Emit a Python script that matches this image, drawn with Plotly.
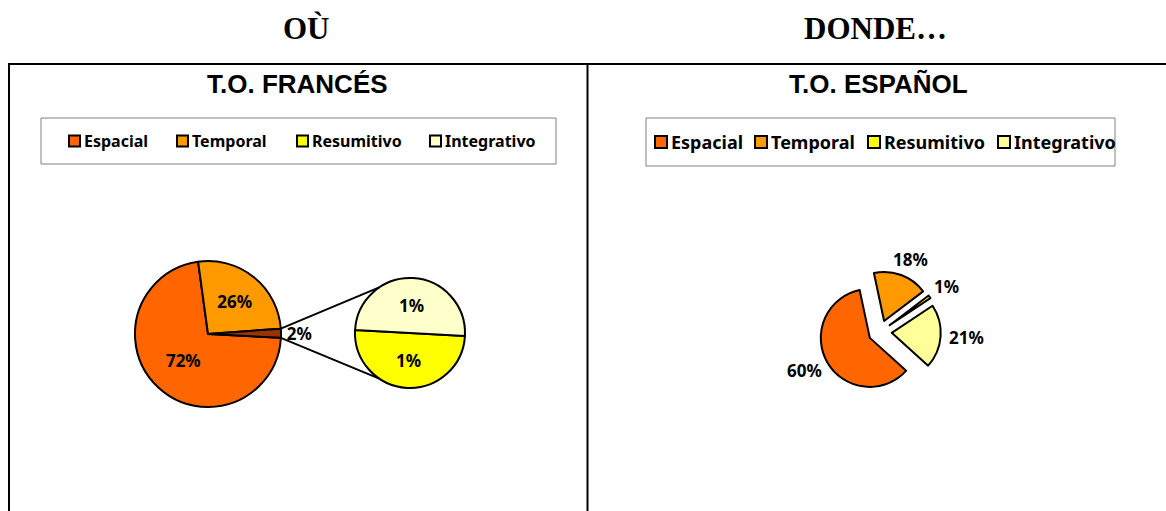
import math
import plotly.graph_objects as go

W, H = 1166, 511

# ---- data -------------------------------------------------------------
headers = ["OÙ", "DONDE…"]
titles = ["T.O. FRANCÉS", "T.O. ESPAÑOL"]
categories = ["Espacial", "Temporal", "Resumitivo", "Integrativo"]

# T.O. FRANCÉS: pie of pie (the two small categories grouped in the main pie)
fr_main_labels = ["Espacial", "Temporal", "Otros"]
fr_main_values = [72, 26, 2]
fr_sub_labels = ["Resumitivo", "Integrativo"]
fr_sub_values = [1, 1]

# T.O. ESPAÑOL: exploded pie
es_labels = ["Espacial", "Temporal", "Resumitivo", "Integrativo"]
es_values = [60, 18, 1, 21]

# ---- styles -----------------------------------------------------------
FR_COLORS = {"Espacial": "#FF6600", "Temporal": "#FF9900", "Otros": "#993300",
             "Resumitivo": "#FFFF00", "Integrativo": "#FFFFCC"}
ES_COLORS = {"Espacial": "#FF6600", "Temporal": "#FF9900",
             "Resumitivo": "#FFFF00", "Integrativo": "#FFFF99"}

LABEL_SIZE = 17
LABEL_FONT = dict(family="Noto Sans", size=LABEL_SIZE, color="black", weight="bold")


def fx(x):
    return x / W


def fy(y):
    return 1 - y / H


def pie_domain(cx, cy, r, pull=0.0):
    half = r * (1 + pull)
    return dict(x=[fx(cx - half), fx(cx + half)], y=[fy(cy + half), fy(cy - half)])


def unit(ang):
    a = math.radians(ang)
    return math.sin(a), -math.cos(a)


def rim_point(cx, cy, r, ang):
    ux, uy = unit(ang)
    return cx + r * ux, cy + r * uy


# pie geometry (pixels)
C1, R1, ROT1 = (208, 334), 73, 93
C2, R2, ROT2 = (410, 333), 55, 93
C3, R3, ROT3, PULL3 = (880, 332), 49, 132, 0.24
LABEL_GAP = 8

fig = go.Figure()

fig.add_trace(go.Pie(
    labels=fr_main_labels, values=fr_main_values, sort=False,
    direction="clockwise", rotation=ROT1,
    marker=dict(colors=[FR_COLORS[l] for l in fr_main_labels],
                line=dict(color="black", width=2)),
    texttemplate="%{value}%", textposition=["inside", "inside", "outside"],
    insidetextorientation="horizontal", textfont=LABEL_FONT,
    domain=pie_domain(*C1, R1), showlegend=False,
))

fig.add_trace(go.Pie(
    labels=fr_sub_labels, values=fr_sub_values, sort=False,
    direction="clockwise", rotation=ROT2,
    marker=dict(colors=[FR_COLORS[l] for l in fr_sub_labels],
                line=dict(color="black", width=2)),
    texttemplate="%{value}%", textposition="inside",
    insidetextorientation="horizontal", textfont=LABEL_FONT,
    domain=pie_domain(*C2, R2), showlegend=False,
))

fig.add_trace(go.Pie(
    labels=es_labels, values=es_values, sort=False,
    direction="clockwise", rotation=ROT3, pull=[PULL3] * len(es_values),
    marker=dict(colors=[ES_COLORS[l] for l in es_labels],
                line=dict(color="black", width=2)),
    textinfo="none",
    domain=pie_domain(*C3, R3, PULL3), showlegend=False,
))

shapes = []
annotations = []

# outside-end labels of the exploded pie, placed along each slice's mid angle
es_total = sum(es_values)
cum = 0
for v in es_values:
    mid = ROT3 + 360 * (cum + v / 2) / es_total
    cum += v
    ux, uy = unit(mid)
    px, py = rim_point(*C3, R3 * (1 + PULL3) + LABEL_GAP, mid)
    text = f"{v}%"
    half_w = (0.6 * (len(text) - 1) + 0.9) * LABEL_SIZE / 2
    half_h = 9
    annotations.append(dict(text=text, x=fx(px + ux * half_w), y=fy(py + uy * half_h),
                            xref="paper", yref="paper", showarrow=False,
                            xanchor="center", yanchor="middle", font=LABEL_FONT))

# connector lines between the grouped slice and the secondary pie
total = sum(fr_main_values)
start_other = ROT1 + 360 * sum(fr_main_values[:-1]) / total
end_other = ROT1 + 360
for a_main, a_sub in [(start_other, 326), (end_other, 214)]:
    x0, y0 = rim_point(*C1, R1, a_main)
    x1, y1 = rim_point(*C2, R2, a_sub)
    shapes.append(dict(type="line", xref="paper", yref="paper",
                       x0=fx(x0), y0=fy(y0), x1=fx(x1), y1=fy(y1),
                       line=dict(color="black", width=2)))

# table frame
for x0, y0, x1, y1 in [(8, 64, 1166, 64), (9, 64, 9, 511), (587.5, 64, 587.5, 511)]:
    shapes.append(dict(type="line", xref="paper", yref="paper",
                       x0=fx(x0), y0=fy(y0), x1=fx(x1), y1=fy(y1),
                       line=dict(color="black", width=2)))

# column headers and chart titles
for text, cx in zip(headers, [306, 875]):
    annotations.append(dict(text=text, x=fx(cx), y=fy(29), xref="paper", yref="paper",
                            showarrow=False, xanchor="center", yanchor="middle",
                            font=dict(family="Liberation Serif", size=31, color="black",
                                      weight="bold")))
for text, cx in zip(titles, [297, 878]):
    annotations.append(dict(text=text, x=fx(cx), y=fy(84), xref="paper", yref="paper",
                            showarrow=False, xanchor="center", yanchor="middle",
                            font=dict(family="Liberation Sans", size=26, color="black",
                                      weight="bold")))

# legends
legend_specs = [
    dict(box=(41, 118, 556, 164), xs=[69, 177, 297, 430], sq=11, font=16, colors=FR_COLORS),
    dict(box=(646, 118, 1115, 166), xs=[655, 755, 868, 998], sq=12, font=18, colors=ES_COLORS),
]
for spec in legend_specs:
    bx0, by0, bx1, by1 = spec["box"]
    shapes.append(dict(type="rect", xref="paper", yref="paper",
                       x0=fx(bx0), y0=fy(by1), x1=fx(bx1), y1=fy(by0),
                       line=dict(color="#808080", width=1), fillcolor="white", layer="below"))
    cy = (by0 + by1) / 2
    s = spec["sq"]
    for name, lx in zip(categories, spec["xs"]):
        shapes.append(dict(type="rect", xref="paper", yref="paper",
                           x0=fx(lx), y0=fy(cy + s / 2), x1=fx(lx + s), y1=fy(cy - s / 2),
                           line=dict(color="black", width=2),
                           fillcolor=spec["colors"][name]))
        annotations.append(dict(text=name, x=fx(lx + s + 2), y=fy(cy), xref="paper",
                                yref="paper", showarrow=False, xanchor="left",
                                yanchor="middle",
                                font=dict(family="Noto Sans", size=spec["font"],
                                          color="black", weight="bold")))

fig.update_layout(
    width=W, height=H, margin=dict(l=0, r=0, t=0, b=0),
    paper_bgcolor="white", plot_bgcolor="white", showlegend=False,
    shapes=shapes, annotations=annotations,
)

fig.write_html("out.html")
